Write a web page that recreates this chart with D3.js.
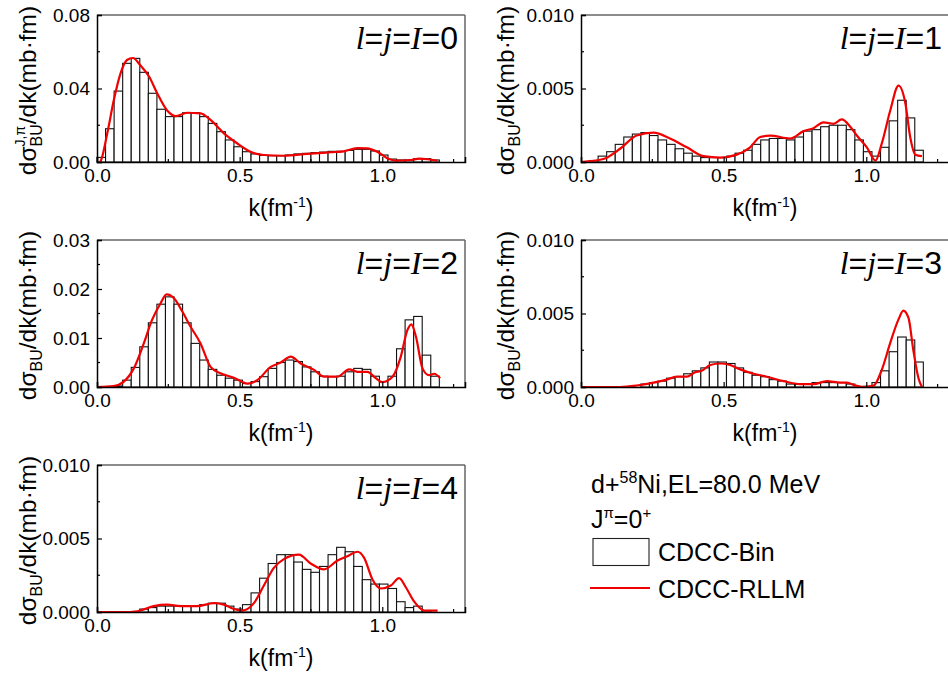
<!DOCTYPE html>
<html><head><meta charset="utf-8">
<script src="https://cdn.jsdelivr.net/npm/d3@7"></script>
<style>body{margin:0;background:#fff}svg{display:block}</style>
</head><body>
<svg id="c" width="948" height="681"></svg>
<script>
// ---- data ----
const binCenters = [0.015,0.045,0.075,0.105,0.135,0.165,0.195,0.225,0.255,0.285,0.315,0.345,0.375,0.405,0.435,0.465,0.495,0.525,0.555,0.585,0.615,0.645,0.675,0.705,0.735,0.765,0.795,0.825,0.855,0.885,0.915,0.945,0.975,1.005,1.035,1.065,1.095,1.125,1.155,1.185];
const binWidth = 0.03;
const bin0 = [0.0025,0.0181,0.0386,0.0537,0.0564,0.0488,0.0374,0.0287,0.0247,0.0247,0.0268,0.0268,0.0247,0.0210,0.0165,0.0120,0.0083,0.0056,0.0044,0.0036,0.0034,0.0034,0.0038,0.0044,0.0047,0.0051,0.0054,0.0058,0.0058,0.0063,0.0069,0.0069,0.0060,0.0038,0.0016,0.0011,0.0011,0.0018,0.0018,0.0011];
const bin1 = [0.0000,0.0001,0.0004,0.0007,0.0012,0.0017,0.0019,0.0020,0.0018,0.0015,0.0012,0.0009,0.0006,0.0004,0.0003,0.0003,0.0003,0.0004,0.0006,0.0008,0.0012,0.0015,0.0016,0.0016,0.0015,0.0017,0.0021,0.0022,0.0024,0.0025,0.0025,0.0022,0.0015,0.0007,0.0004,0.0010,0.0028,0.0042,0.0030,0.0008];
const bin2 = [0,0,0.0002,0.0014,0.0040,0.0082,0.0131,0.0169,0.0184,0.0169,0.0131,0.0089,0.0055,0.0036,0.0024,0.0018,0.0014,0.0007,0.0011,0.0021,0.0038,0.0050,0.0055,0.0052,0.0041,0.0031,0.0022,0.0021,0.0022,0.0031,0.0038,0.0036,0.0022,0.0011,0.0022,0.0078,0.0137,0.0144,0.0065,0.0022];
const bin3 = [0,0,0,0,0,0,0,0.0002,0.0003,0.0004,0.0006,0.0007,0.0009,0.0011,0.0013,0.0017,0.0017,0.0016,0.0013,0.0010,0.0008,0.0007,0.0005,0.0004,0.0002,0.0002,0.0002,0.0003,0.0003,0.0003,0.0003,0.0002,0,0.00005,0.0003,0.0011,0.0024,0.0034,0.0032,0.0017];
const bin4 = [0,0,0,0,0,0.0002,0.0003,0.0004,0.0004,0.0004,0.0004,0.0004,0.0005,0.0006,0.0006,0.0004,0.0002,0.0005,0.0013,0.0023,0.0033,0.0039,0.0039,0.0034,0.0029,0.0027,0.0031,0.0039,0.0044,0.0041,0.0031,0.0022,0.0019,0.0019,0.0016,0.0007,0.0003,0.0004,0.0001,0];

const lineK0 = [0.01,0.012,0.036,0.059,0.082,0.105,0.126,0.151,0.183,0.211,0.246,0.275,0.316,0.363,0.398,0.445,0.491,0.538,0.585,0.655,0.737,0.819,0.865,0.912,0.947,0.982,1.023,1.052,1.1,1.13,1.158,1.193];
const lineV0 = [0,0.0003,0.0156,0.0337,0.048,0.0555,0.0566,0.0528,0.0464,0.0374,0.028,0.025,0.0268,0.0265,0.0229,0.0156,0.0102,0.0056,0.0038,0.0034,0.0044,0.0053,0.0058,0.0076,0.0074,0.0056,0.0016,0.0007,0.0011,0.0018,0.0015,0.0007];
const lineK1 = [0,0.078,0.137,0.195,0.254,0.312,0.371,0.429,0.488,0.546,0.593,0.628,0.663,0.733,0.78,0.815,0.85,0.885,0.914,0.944,0.967,1.002,1.032,1.055,1.084,1.113,1.137,1.154,1.172,1.195];
const lineV1 = [0,0.0002,0.0009,0.0018,0.0020,0.0016,0.0010,0.0004,0.0003,0.0005,0.0010,0.0017,0.0018,0.0016,0.0021,0.0023,0.0027,0.0026,0.0029,0.0024,0.0018,0.0010,0.0001,0.0013,0.0035,0.0052,0.0040,0.0017,0.0005,0.0004];
const lineK2 = [0,0.058,0.094,0.129,0.164,0.193,0.223,0.244,0.27,0.299,0.328,0.363,0.398,0.433,0.48,0.527,0.562,0.609,0.644,0.679,0.714,0.761,0.796,0.843,0.884,0.913,0.948,0.977,1.0,1.036,1.065,1.088,1.102,1.118,1.141,1.164,1.182,1.203];
const lineV2 = [0,0.0002,0.0011,0.0038,0.0089,0.0137,0.0171,0.0189,0.0181,0.0154,0.0123,0.0089,0.0041,0.0028,0.0019,0.0007,0.0014,0.0041,0.0050,0.0062,0.0048,0.0035,0.0021,0.0021,0.0036,0.0031,0.0031,0.0018,0.0010,0.0021,0.0062,0.0116,0.0128,0.0103,0.0038,0.0024,0.0027,0.0018];
const lineK3 = [0,0.137,0.195,0.254,0.3,0.336,0.371,0.4,0.423,0.453,0.488,0.523,0.558,0.605,0.651,0.71,0.768,0.815,0.862,0.909,0.932,0.962,0.991,1.026,1.055,1.084,1.113,1.13,1.148,1.165,1.183,1.195];
const lineV3 = [0,0,0.0001,0.0003,0.0005,0.0007,0.0007,0.0010,0.0011,0.0015,0.0016,0.0015,0.0012,0.0009,0.0007,0.0004,0.0002,0.0002,0.0004,0.0003,0.0003,0.0001,0,0.0001,0.0012,0.0030,0.0046,0.0052,0.0047,0.0025,0.0006,0];
const lineK4 = [0,0.117,0.152,0.199,0.246,0.293,0.351,0.41,0.445,0.48,0.509,0.55,0.585,0.62,0.655,0.708,0.749,0.796,0.843,0.878,0.913,0.936,0.966,0.995,1.03,1.059,1.082,1.112,1.147,1.194];
const lineV4 = [0,0,0.0001,0.0004,0.0005,0.0004,0.0004,0.0006,0.0005,0.0002,0.0001,0.0006,0.0018,0.0030,0.0036,0.0039,0.0033,0.0029,0.0035,0.0038,0.0041,0.0037,0.0022,0.0016,0.0018,0.0023,0.0017,0.0007,0.0001,0.0001];

const xTicks = [0, 0.5, 1.0];
const xTickLabels = ["0.0", "0.5", "1.0"];
const xMinor = [0.25, 0.75, 1.25];
const yTicks0 = [0, 0.04, 0.08], yLabels0 = ["0.00","0.04","0.08"], yMinor0 = [0.02, 0.06];
const yTicksS = [0, 0.005, 0.010], yLabelsS = ["0.000","0.005","0.010"], yMinorS = [0.0025, 0.0075];
const yTicks2 = [0, 0.01, 0.02, 0.03], yLabels2 = ["0.00","0.01","0.02","0.03"], yMinor2 = [0.005, 0.015, 0.025];
const panelValues = ["0","1","2","3","4"];
const legendTitle = "d+", legendMass = "58", legendRest = "Ni,EL=80.0 MeV";
const legendBin = "CDCC-Bin", legendLine = "CDCC-RLLM";

// ---- layout ----
const W = 368, H = 147;
const panels = [
  {x:97,  y:15,  bins:bin0, lk:lineK0, lv:lineV0, ymax:0.08, yt:yTicks0, yl:yLabels0, ym:yMinor0, sup:true, lab:-61},
  {x:581, y:15,  bins:bin1, lk:lineK1, lv:lineV1, ymax:0.010, yt:yTicksS, yl:yLabelsS, ym:yMinorS, lab:-67},
  {x:97,  y:240, bins:bin2, lk:lineK2, lv:lineV2, ymax:0.03, yt:yTicks2, yl:yLabels2, ym:yMinor2, lab:-61},
  {x:581, y:240, bins:bin3, lk:lineK3, lv:lineV3, ymax:0.010, yt:yTicksS, yl:yLabelsS, ym:yMinorS, lab:-67},
  {x:97,  y:465, bins:bin4, lk:lineK4, lv:lineV4, ymax:0.010, yt:yTicksS, yl:yLabelsS, ym:yMinorS, lab:-61}
];
const SANS = "'Liberation Sans', Arial, sans-serif";
const SERIF = "'Liberation Serif', 'Times New Roman', serif";
const RED = "#f00000";

const svg = d3.select("#c");

panels.forEach((p, i) => {
  const g = svg.append("g").attr("transform", `translate(${p.x},${p.y})`);
  const x = d3.scaleLinear().domain([0, 1.29]).range([0, W]);
  const y = d3.scaleLinear().domain([0, p.ymax]).range([H, 0]);

  // bars
  g.append("g").selectAll("rect").data(binCenters.map((c, j) => ({c, v: p.bins[j]})))
    .join("rect")
    .attr("x", d => x(d.c - binWidth/2))
    .attr("width", d => x(d.c + binWidth/2) - x(d.c - binWidth/2))
    .attr("y", d => y(d.v))
    .attr("height", d => H - y(d.v))
    .attr("fill", "#fff").attr("stroke", "#111").attr("stroke-width", 1.1);

  // line
  const line = d3.line().x(d => x(d[0])).y(d => y(Math.max(0, d[1]))).curve(d3.curveMonotoneX);
  g.append("path").datum(p.lk.map((k, j) => [k, p.lv[j]]))
    .attr("d", line).attr("fill", "none").attr("stroke", RED).attr("stroke-width", 2.2);

  // frame top/right
  g.append("line").attr("x1", 0).attr("x2", W).attr("y1", 0).attr("y2", 0).attr("stroke", "#666").attr("stroke-width", 1.5);
  g.append("line").attr("x1", W).attr("x2", W).attr("y1", 0).attr("y2", H).attr("stroke", "#666").attr("stroke-width", 1.5);

  // x axis
  const xa = d3.axisBottom(x).tickValues(xTicks).tickSize(-5).tickPadding(8).tickFormat((d, j) => xTickLabels[j]);
  const gx = g.append("g").attr("transform", `translate(0,${H})`).call(xa);
  gx.select(".domain").attr("stroke", "#000").attr("stroke-width", 1.5);
  gx.selectAll("text").attr("font-family", SANS).attr("font-size", 19).attr("fill", "#000").attr("dy", "0.71em").attr("y", 7);
  gx.selectAll(".tick line").attr("stroke", "#000").attr("stroke-width", 1.2);
  g.append("g").selectAll("line").data(xMinor).join("line")
    .attr("x1", d => x(d)).attr("x2", d => x(d)).attr("y1", H).attr("y2", H - 3)
    .attr("stroke", "#000").attr("stroke-width", 1.2);

  // y axis
  const ya = d3.axisLeft(y).tickValues(p.yt).tickSize(-5).tickPadding(7).tickFormat((d, j) => p.yl[j]);
  const gy = g.append("g").call(ya);
  gy.select(".domain").attr("stroke", "#000").attr("stroke-width", 1.5);
  gy.selectAll("text").attr("font-family", SANS).attr("font-size", 19).attr("fill", "#000");
  gy.selectAll(".tick line").attr("stroke", "#000").attr("stroke-width", 1.2);
  g.append("g").selectAll("line").data(p.ym).join("line")
    .attr("x1", 0).attr("x2", 3).attr("y1", d => y(d)).attr("y2", d => y(d))
    .attr("stroke", "#000").attr("stroke-width", 1.2);

  // x label
  const xl = g.append("text").attr("x", W/2).attr("y", H + 54).attr("text-anchor", "middle")
    .attr("font-family", SANS).attr("font-size", 23).attr("fill", "#000");
  xl.append("tspan").text("k(fm");
  xl.append("tspan").attr("font-size", 14).attr("dy", -9).text("-1");
  xl.append("tspan").attr("dy", 9).text(")");

  // y label
  const yl = g.append("text").attr("transform", `translate(${p.lab},${H/2 + 2})rotate(-90)`)
    .attr("text-anchor", "middle").attr("font-family", SANS).attr("font-size", 24.5).attr("fill", "#000");
  yl.append("tspan").text("dσ");
  const sub = yl.append("tspan").attr("font-size", 16).attr("dy", 6).text("BU");
  if (p.sup) {
    const subLen = sub.node().getComputedTextLength();
    const sp = yl.append("tspan").attr("font-size", 14).attr("dx", -subLen).attr("dy", -17).text("J,π");
    const supLen = sp.node().getComputedTextLength();
    yl.append("tspan").attr("dx", Math.max(0, subLen - supLen)).attr("dy", 11).text("/dk(mb·fm)");
  } else {
    yl.append("tspan").attr("dy", -6).text("/dk(mb·fm)");
  }

  // panel annotation
  const t = g.append("text").attr("x", W - 7).attr("y", 34).attr("text-anchor", "end")
    .attr("font-size", 32).attr("fill", "#000");
  t.append("tspan").attr("font-family", SERIF).attr("font-style", "italic").text("l");
  t.append("tspan").attr("font-family", SANS).text("=");
  t.append("tspan").attr("font-family", SERIF).attr("font-style", "italic").text("j");
  t.append("tspan").attr("font-family", SANS).text("=");
  t.append("tspan").attr("font-family", SERIF).attr("font-style", "italic").text("I");
  t.append("tspan").attr("font-family", SANS).text("=" + panelValues[i]);
});

// ---- legend ----
const lg = svg.append("g").attr("font-family", SANS).attr("fill", "#000");
const l1 = lg.append("text").attr("x", 591).attr("y", 493).attr("font-size", 25);
l1.append("tspan").text(legendTitle);
l1.append("tspan").attr("font-size", 16).attr("dy", -10).text(legendMass);
l1.append("tspan").attr("dy", 10).text(legendRest);
const l2 = lg.append("text").attr("x", 591).attr("y", 528).attr("font-size", 25);
l2.append("tspan").text("J");
l2.append("tspan").attr("font-size", 15).attr("dy", -10).text("π");
l2.append("tspan").attr("dy", 10).text("=0");
l2.append("tspan").attr("font-size", 15).attr("dy", -10).text("+");
lg.append("rect").attr("x", 593).attr("y", 538.5).attr("width", 56).attr("height", 27)
  .attr("fill", "#fff").attr("stroke", "#222").attr("stroke-width", 1.1);
lg.append("text").attr("x", 658).attr("y", 561).attr("font-size", 25).text(legendBin);
lg.append("line").attr("x1", 590).attr("x2", 650).attr("y1", 588).attr("y2", 588)
  .attr("stroke", RED).attr("stroke-width", 2.2);
lg.append("text").attr("x", 658).attr("y", 598).attr("font-size", 25).text(legendLine);
</script>
</body></html>
